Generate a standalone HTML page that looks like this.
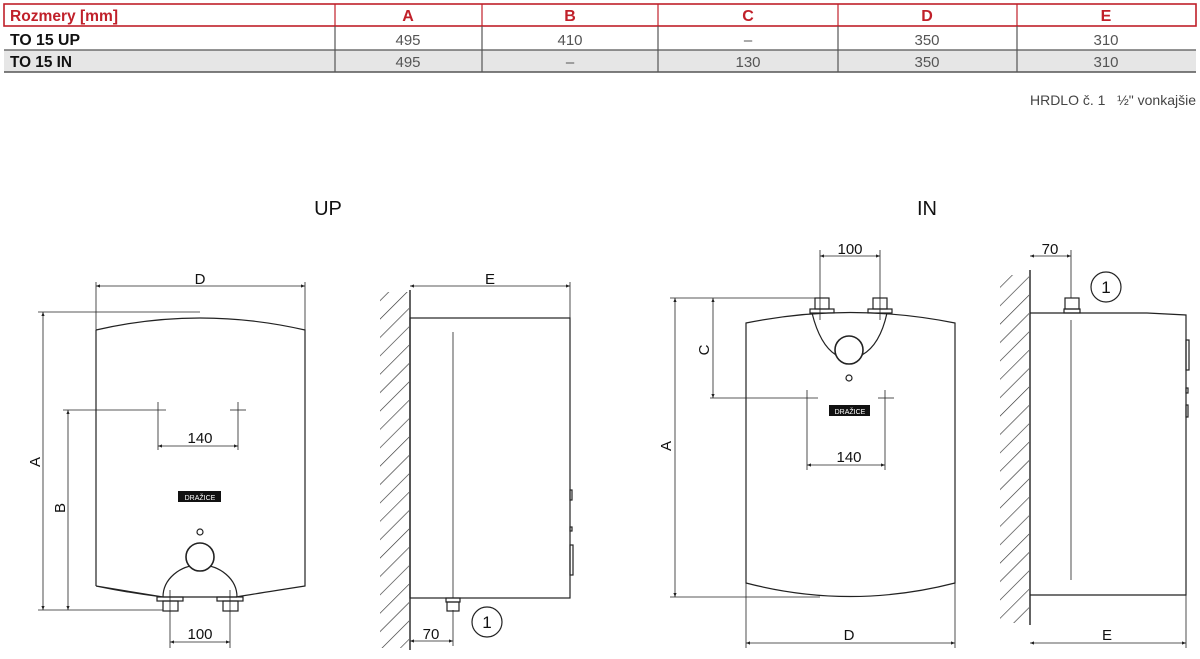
<!DOCTYPE html>
<html><head><meta charset="utf-8"><style>
body{margin:0;background:#fff;width:1200px;height:659px;overflow:hidden;font-family:"Liberation Sans",sans-serif}
svg{position:absolute;left:0;top:0}
</style></head><body>
<svg width="1200" height="659" viewBox="0 0 1200 659" xmlns="http://www.w3.org/2000/svg">
<defs>
<marker id="ar" viewBox="0 0 10 10" refX="10" refY="5" markerWidth="7" markerHeight="5" orient="auto-start-reverse"><path d="M0,1 L10,5 L0,9 z" fill="#222"/></marker>
<pattern id="hatch" patternUnits="userSpaceOnUse" width="13" height="13" patternTransform="rotate(45)">
<line x1="0" y1="0" x2="0" y2="13" stroke="#333" stroke-width="1.3"/></pattern>
</defs>
<!-- table -->
<rect x="4" y="50" width="1192" height="22" fill="#e6e6e6"/>
<g stroke="#c0202a" stroke-width="1.6" fill="none">
<rect x="4" y="4" width="1192" height="22"/>
</g>
<g stroke="#c0202a" stroke-width="1.2">
<line x1="335" y1="4" x2="335" y2="26"/><line x1="482" y1="4" x2="482" y2="26"/><line x1="658" y1="4" x2="658" y2="26"/><line x1="838" y1="4" x2="838" y2="26"/><line x1="1017" y1="4" x2="1017" y2="26"/>
</g>
<g stroke="#555" stroke-width="1.2">
<line x1="4" y1="50" x2="1196" y2="50"/><line x1="4" y1="72" x2="1196" y2="72" stroke-width="1.6"/>
<line x1="335" y1="26" x2="335" y2="72"/><line x1="482" y1="26" x2="482" y2="72"/><line x1="658" y1="26" x2="658" y2="72"/><line x1="838" y1="26" x2="838" y2="72"/><line x1="1017" y1="26" x2="1017" y2="72"/>
</g>
<g font-size="16">
<g fill="#c0202a" font-weight="bold" text-anchor="middle">
<text x="408" y="21">A</text><text x="570" y="21">B</text><text x="748" y="21">C</text><text x="927" y="21">D</text><text x="1106" y="21">E</text>
</g>
<text x="10" y="21" fill="#c0202a" font-weight="bold" textLength="108" lengthAdjust="spacingAndGlyphs">Rozmery [mm]</text>
<g font-weight="bold" fill="#111"><text x="10" y="45" textLength="70" lengthAdjust="spacingAndGlyphs">TO 15 UP</text><text x="10" y="67" textLength="62" lengthAdjust="spacingAndGlyphs">TO 15 IN</text></g>
<g fill="#555" text-anchor="middle" font-size="15">
<text x="408" y="45">495</text><text x="570" y="45">410</text><text x="748" y="45">–</text><text x="927" y="45">350</text><text x="1106" y="45">310</text>
<text x="408" y="67">495</text><text x="570" y="67">–</text><text x="748" y="67">130</text><text x="927" y="67">350</text><text x="1106" y="67">310</text>
</g>
</g>
<text x="1196" y="105" font-size="14" fill="#444" text-anchor="end">HRDLO č. 1 &#160; ½" vonkajšie</text>

<text x="328" y="215" font-size="20" text-anchor="middle" fill="#111">UP</text>
<text x="927" y="215" font-size="20" text-anchor="middle" fill="#111">IN</text>

<g stroke="#222" stroke-width="1.2" fill="none">
<!-- UP front -->
<path d="M96,330 Q200,306 305,330 L305,586 Q260,593 236,597 M163,597 Q130,593 96,586 Z"/>
<path d="M96,330 L96,586"/>
<line x1="163" y1="597" x2="237" y2="597"/>
<path d="M163,597 A37,32 0 0 1 237,597"/>
<circle cx="200" cy="557" r="14" stroke-width="1.6" fill="#fff"/>
<circle cx="200" cy="532" r="3"/>
<rect x="157" y="597" width="26" height="4"/><rect x="163" y="601" width="15" height="10"/>
<rect x="217" y="597" width="26" height="4"/><rect x="223" y="601" width="15" height="10"/>
<g stroke-width="0.8">
<line x1="96" y1="282" x2="96" y2="330"/><line x1="305" y1="282" x2="305" y2="330"/>
<line x1="38" y1="312" x2="200" y2="312"/><line x1="38" y1="610" x2="163" y2="610"/>
<line x1="63" y1="410" x2="166" y2="410"/>
<line x1="158" y1="402" x2="158" y2="450"/><line x1="238" y1="402" x2="238" y2="450"/><line x1="230" y1="410" x2="246" y2="410"/>
<line x1="170" y1="590" x2="170" y2="648"/><line x1="230" y1="590" x2="230" y2="648"/>
<line x1="96" y1="286" x2="305" y2="286" marker-start="url(#ar)" marker-end="url(#ar)"/>
<line x1="43" y1="312" x2="43" y2="610" marker-start="url(#ar)" marker-end="url(#ar)"/>
<line x1="68" y1="410" x2="68" y2="610" marker-start="url(#ar)" marker-end="url(#ar)"/>
<line x1="158" y1="446" x2="238" y2="446" marker-start="url(#ar)" marker-end="url(#ar)"/>
<line x1="170" y1="642" x2="230" y2="642" marker-start="url(#ar)" marker-end="url(#ar)"/>
</g>
<!-- UP side -->
<rect x="410" y="318" width="160" height="280"/>
<line x1="453" y1="332" x2="453" y2="598" stroke-width="0.8"/>
<rect x="446" y="598" width="14" height="4"/><rect x="447" y="602" width="12" height="9"/>
<rect x="570" y="490" width="2" height="10"/><rect x="570" y="527" width="2" height="4"/><rect x="570" y="545" width="3" height="30"/>
<line x1="410" y1="290" x2="410" y2="650" stroke-width="1.4"/>
<g stroke-width="0.8">
<line x1="570" y1="282" x2="570" y2="318"/>
<line x1="410" y1="286" x2="570" y2="286" marker-start="url(#ar)" marker-end="url(#ar)"/>
<line x1="453" y1="610" x2="453" y2="646"/>
<line x1="410" y1="641" x2="453" y2="641" marker-start="url(#ar)" marker-end="url(#ar)"/>
</g>
<circle cx="487" cy="622" r="15"/>
<!-- IN front -->
<path d="M746,323 Q850,302 955,323 L955,583 Q850,610 746,583 Z"/>
<path d="M812,313 Q820,345 836,355 M887,313 Q880,345 862,355"/>
<circle cx="849" cy="350" r="14" stroke-width="1.6"/>
<circle cx="849" cy="378" r="3"/>
<rect x="810" y="309" width="24" height="4"/><rect x="815" y="298" width="14" height="11"/>
<rect x="868" y="309" width="24" height="4"/><rect x="873" y="298" width="14" height="11"/>
<g stroke-width="0.8">
<line x1="820" y1="250" x2="820" y2="320"/><line x1="880" y1="250" x2="880" y2="320"/>
<line x1="820" y1="256" x2="880" y2="256" marker-start="url(#ar)" marker-end="url(#ar)"/>
<line x1="670" y1="298" x2="822" y2="298"/><line x1="670" y1="597" x2="820" y2="597"/>
<line x1="675" y1="298" x2="675" y2="597" marker-start="url(#ar)" marker-end="url(#ar)"/>
<line x1="713" y1="298" x2="713" y2="398" marker-start="url(#ar)" marker-end="url(#ar)"/>
<line x1="710" y1="398" x2="818" y2="398"/><line x1="878" y1="398" x2="894" y2="398"/>
<line x1="807" y1="390" x2="807" y2="470"/><line x1="885" y1="390" x2="885" y2="470"/>
<line x1="807" y1="465" x2="885" y2="465" marker-start="url(#ar)" marker-end="url(#ar)"/>
<line x1="746" y1="583" x2="746" y2="648"/><line x1="955" y1="583" x2="955" y2="648"/>
<line x1="746" y1="643" x2="955" y2="643" marker-start="url(#ar)" marker-end="url(#ar)"/>
</g>
<!-- IN side -->
<path d="M1030,313 L1147,313 L1186,315 L1186,595 L1030,595"/>
<line x1="1030" y1="270" x2="1030" y2="625" stroke-width="1.4"/>
<rect x="1064" y="309" width="16" height="4"/><rect x="1065" y="298" width="14" height="11"/>
<line x1="1071" y1="320" x2="1071" y2="580" stroke-width="0.8"/>
<rect x="1186" y="340" width="3" height="30"/><rect x="1186" y="388" width="2" height="5"/><rect x="1186" y="405" width="2" height="12"/>
<g stroke-width="0.8">
<line x1="1071" y1="250" x2="1071" y2="298"/>
<line x1="1030" y1="256" x2="1071" y2="256" marker-start="url(#ar)" marker-end="url(#ar)"/>
<line x1="1186" y1="595" x2="1186" y2="648"/>
<line x1="1030" y1="643" x2="1186" y2="643" marker-start="url(#ar)" marker-end="url(#ar)"/>
</g>
<circle cx="1106" cy="287" r="15"/>
</g>
<!-- hatch walls -->
<rect x="380" y="292" width="29" height="356" fill="url(#hatch)"/>
<rect x="1000" y="275" width="29" height="348" fill="url(#hatch)"/>
<!-- logos -->
<rect x="178" y="491" width="43" height="11" fill="#111"/>
<text x="200" y="500" font-size="7" fill="#fff" text-anchor="middle">DRAŽICE</text>
<rect x="829" y="405" width="41" height="11" fill="#111"/>
<text x="850" y="414" font-size="7" fill="#fff" text-anchor="middle">DRAŽICE</text>
<!-- labels -->
<g font-size="15" fill="#111" text-anchor="middle">
<text x="200" y="284">D</text><text x="490" y="284">E</text>
<text x="200" y="443">140</text><text x="200" y="639">100</text><text x="431" y="639">70</text>
<text x="487" y="628" font-size="17">1</text>
<text x="850" y="254">100</text><text x="1050" y="254">70</text>
<text x="1106" y="293" font-size="17">1</text>
<text x="849" y="462">140</text>
<text x="849" y="640">D</text><text x="1107" y="640">E</text>
<text transform="translate(40,462) rotate(-90)">A</text>
<text transform="translate(65,508) rotate(-90)">B</text>
<text transform="translate(671,446) rotate(-90)">A</text>
<text transform="translate(709,350) rotate(-90)">C</text>
</g>
</svg>
</body></html>
